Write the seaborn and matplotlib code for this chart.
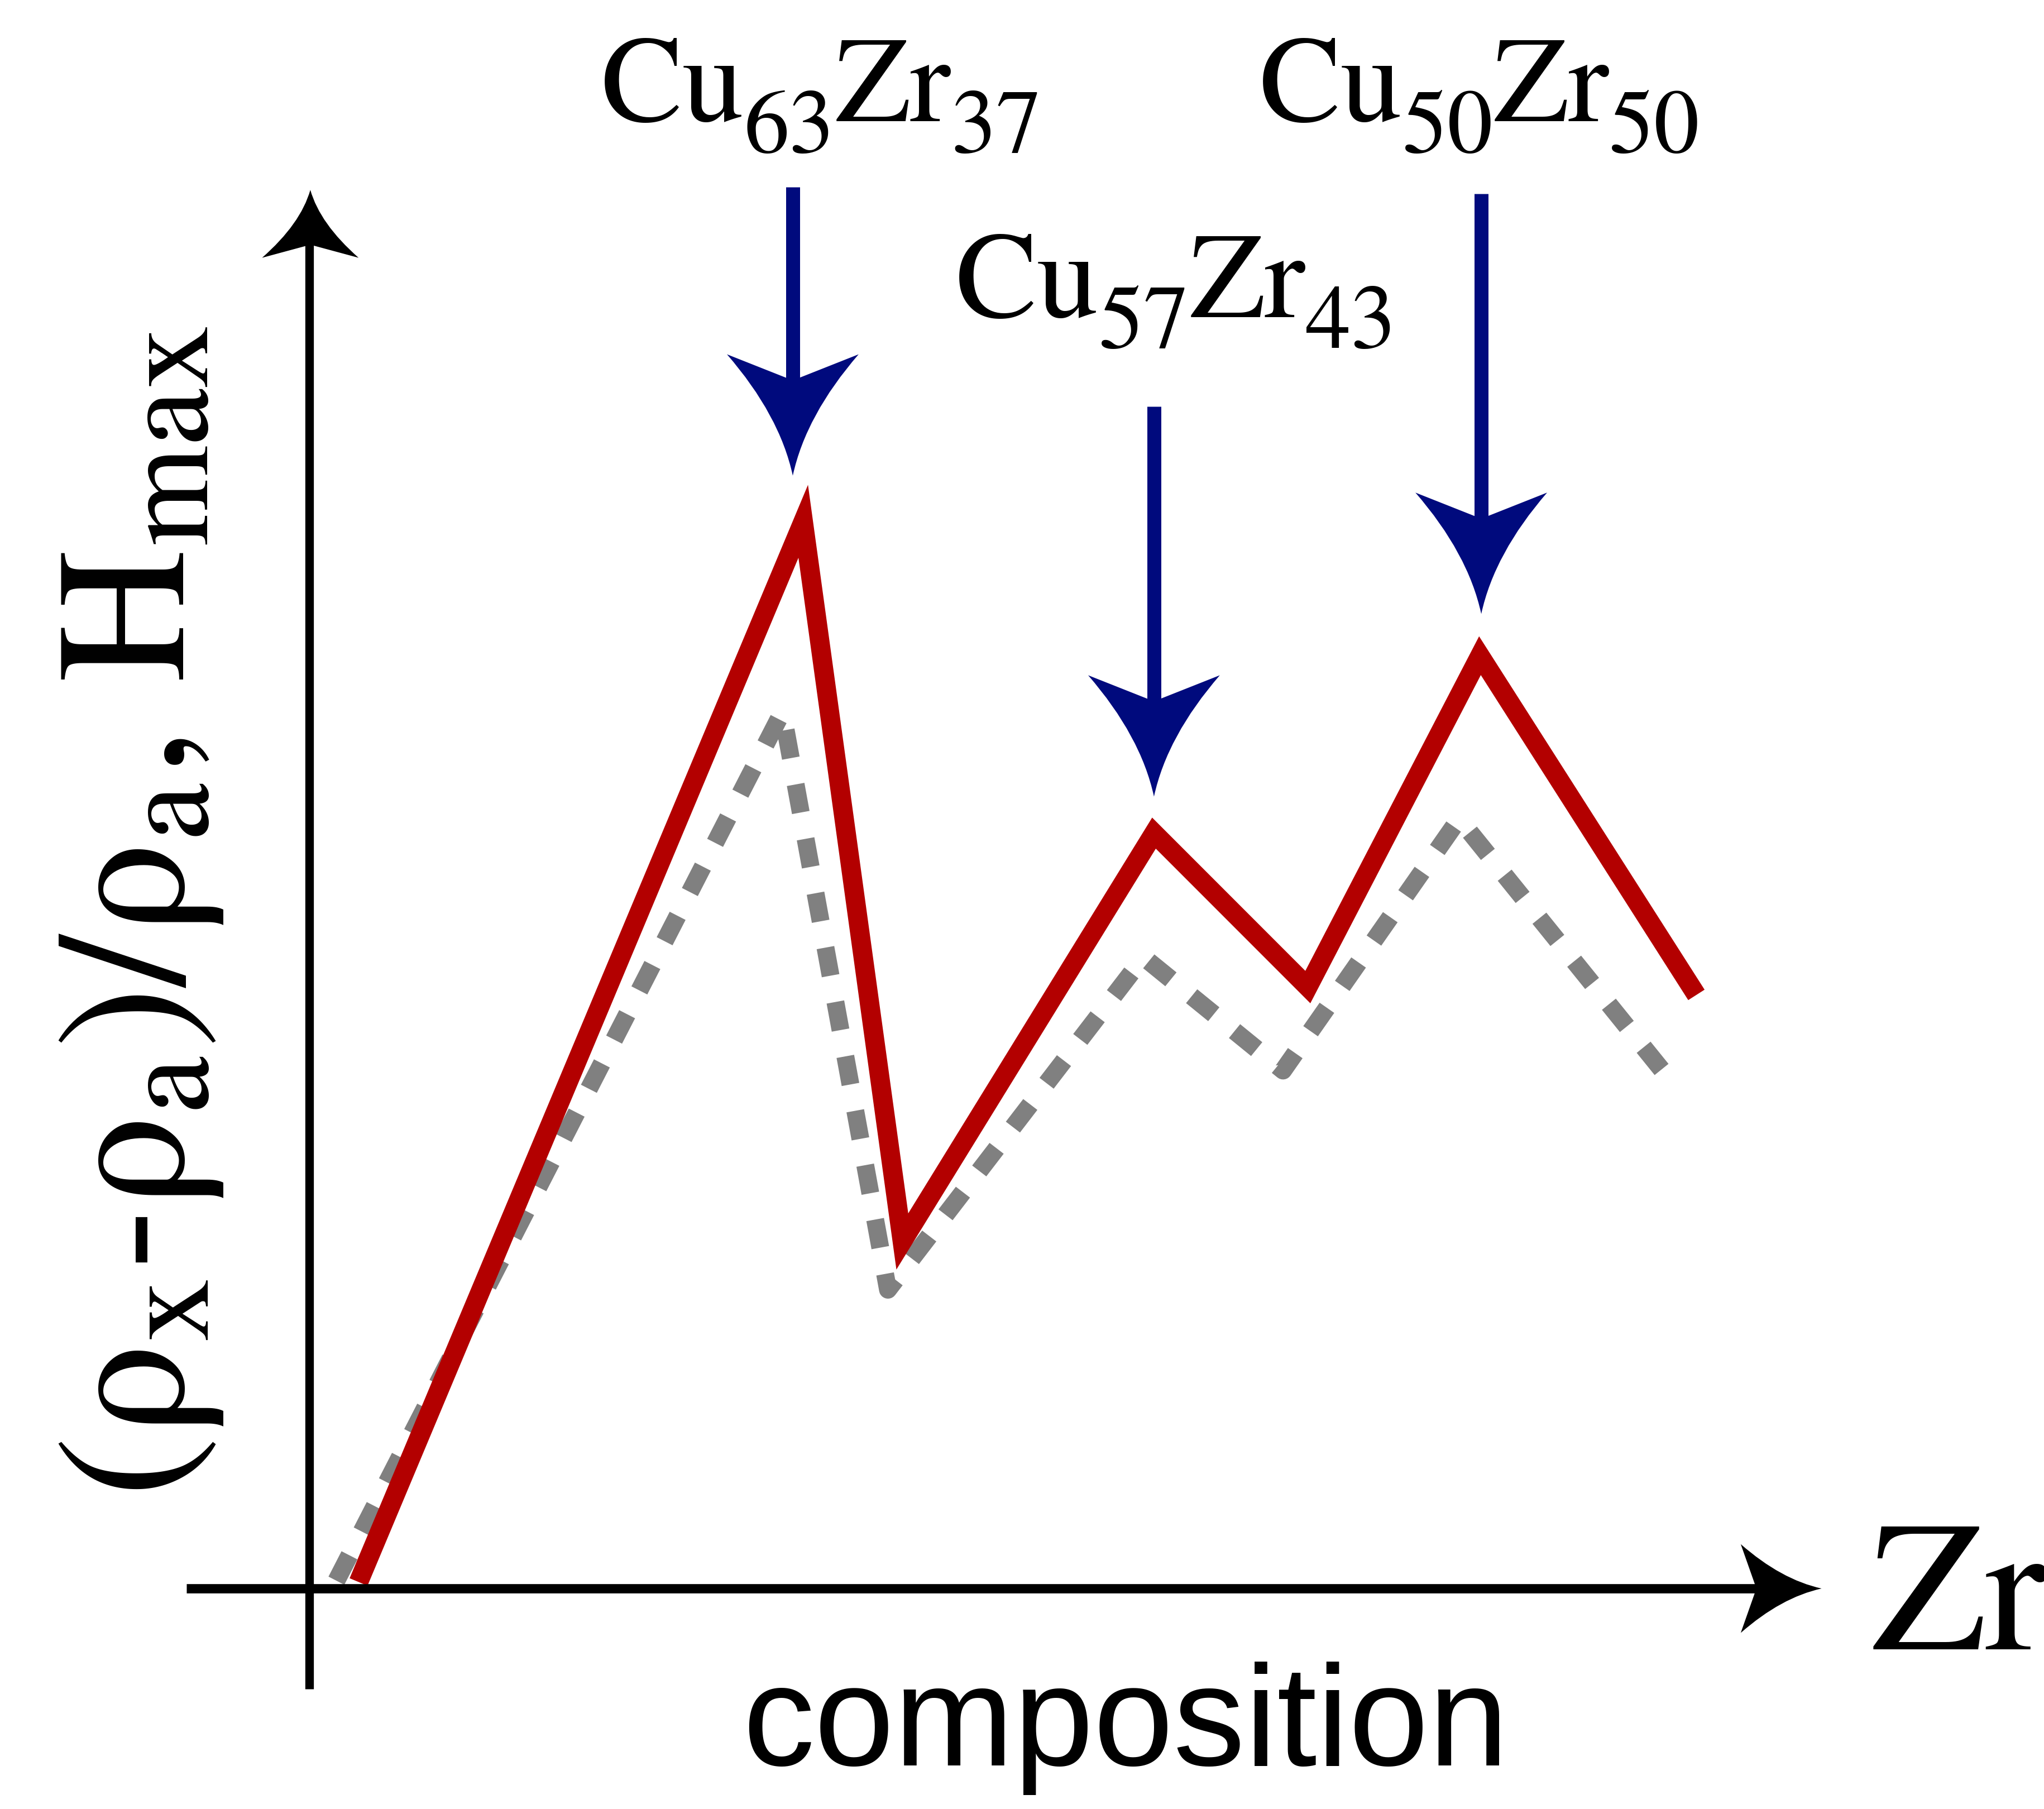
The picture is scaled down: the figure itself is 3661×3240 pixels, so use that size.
import seaborn as sns
import matplotlib.pyplot as plt
import numpy as np
from matplotlib.path import Path
from matplotlib.patches import PathPatch

# schematic values (arbitrary units)
red_x = [0.38, 3.79, 4.55, 6.48, 7.66, 8.98, 10.64]
red_y = [0.05, 8.18, 2.66, 5.79, 4.61, 7.15, 4.55]
gray_x = [0.21, 3.63, 4.44, 6.40, 7.47, 8.82, 10.42]
gray_y = [0.06, 6.72, 2.29, 4.84, 3.97, 5.90, 3.92]

# marked compositions: formula pieces (element, index, element, index)
comp_parts = [["Cu", "63", "Zr", "37"], ["Cu", "57", "Zr", "43"], ["Cu", "50", "Zr", "50"]]
arrow_x = [3.71, 6.48, 8.99]
arrow_top = [10.74, 9.06, 10.69]
arrow_tip = [8.53, 6.07, 7.47]
label_x = [2.24, 4.96, 7.29]
label_y = [11.25, 9.75, 11.25]

RED = "#b30000"
GRAY = "#808080"
BLUE = "#000a7d"

sns.set_style("white")
plt.rcParams["font.family"] = ["STIXGeneral", "Liberation Serif", "DejaVu Serif"]
plt.rcParams["mathtext.fontset"] = "stix"
plt.rcParams["text.color"] = "black"

fig = plt.figure(figsize=(36.62, 32.41), dpi=100)
ax = fig.add_axes([0, 0, 1, 1])


def head(tip, d, L, W, back, color):
    # arrow head with concave sides and a notched back
    tx, ty = tip
    dx, dy = d
    nx, ny = -dy, dx

    def pt(a, b):
        return (tx - a * dx + b * nx, ty - a * dy + b * ny)

    verts = [pt(0, 0), pt(0.5 * L, 0.2 * W / 2), pt(L, W / 2), pt(back, 0),
             pt(L, -W / 2), pt(0.5 * L, -0.2 * W / 2), pt(0, 0), pt(0, 0)]
    codes = [Path.MOVETO, Path.CURVE3, Path.CURVE3, Path.LINETO,
             Path.LINETO, Path.CURVE3, Path.CURVE3, Path.CLOSEPOLY]
    ax.add_patch(PathPatch(Path(verts, codes), fc=color, ec="none", zorder=5))


def chem(x, y, parts, size=158, sub_size=117, drop=40):
    # formula with big, low subscripts, built piece by piece
    desc = 0.22 * size  # depth of the main text box below its baseline
    main = ax.text(x, y, parts[0], fontsize=size, ha="left", va="baseline")
    prev = main
    for i, p in enumerate(parts[1:], start=1):
        is_sub = i % 2 == 1
        prev = ax.annotate(p, xy=(1, 0), xycoords=(prev, main),
                           xytext=(0, desc - (drop if is_sub else 0)),
                           textcoords="offset points",
                           fontsize=sub_size if is_sub else size,
                           ha="left", va="baseline")


# axes with arrows
ax.plot([0, 0], [-0.77, 10.4], color="black", lw=11, solid_capstyle="butt", zorder=4)
head((0.01, 10.72), (0, 1), 0.52, 0.74, 0.42, "black")
ax.plot([-0.94, 11.15], [0, 0], color="black", lw=12, solid_capstyle="butt", zorder=4)
head((11.60, 0), (1, 0), 0.62, 0.68, 0.50, "black")

# curves
sns.lineplot(x=gray_x, y=gray_y, sort=False, estimator=None, color=GRAY, lw=23,
             linestyle=(0, (1.6, 1.5)), dash_capstyle="butt", ax=ax, zorder=2)
sns.lineplot(x=red_x, y=red_y, sort=False, estimator=None, color=RED, lw=25,
             solid_joinstyle="miter", solid_capstyle="butt", ax=ax, zorder=3)

# composition markers
for parts, xa, top, tip, lx, ly in zip(comp_parts, arrow_x, arrow_top, arrow_tip, label_x, label_y):
    ax.plot([xa, xa], [top, tip + 0.6], color=BLUE, lw=18, solid_capstyle="butt", zorder=5)
    head((xa, tip), (0, -1), 0.93, 1.01, 0.73, BLUE)
    chem(lx, ly, parts)

ax.text(-0.96, 5.19, r"($\mathrm{ρ_x}$-$\mathrm{ρ_a}$)/$\mathrm{ρ_a}$, H$_\mathrm{max}$",
        fontsize=238, rotation=90, rotation_mode="anchor", ha="center", va="baseline")
ax.text(11.98, -0.46, "Zr", fontsize=240, ha="left", va="baseline")
ax.text(6.26, -1.35, "composition", fontsize=185, ha="center", va="baseline",
        family=["Liberation Sans", "DejaVu Sans"])

ax.set_xlim(-2.37, 13.31)
ax.set_ylim(-1.69, 12.18)
ax.axis("off")

fig.savefig("out.png", dpi=100)
